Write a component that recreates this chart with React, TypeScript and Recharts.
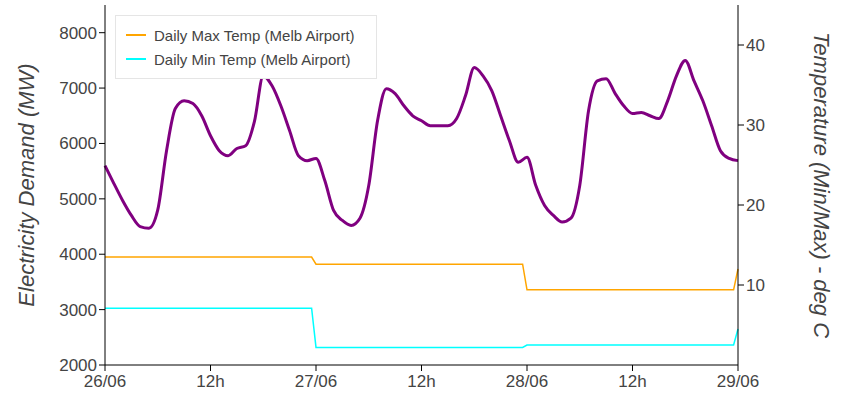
import React from 'react';
import { LineChart, Line, XAxis, YAxis, Legend } from 'recharts';

// hourly electricity demand (MW), hour 0 = 26/06 00:00
const hours = Array.from({ length: 73 }, (_, i) => i);
const demand = [
  5600, 5280, 4970, 4700, 4500, 4470, 4800, 5870, 6630, 6770, 6720, 6500,
  6140, 5870, 5780, 5910, 5960, 6400, 7220, 7040, 6680, 6230, 5780, 5690,
  5730, 5330, 4790, 4610, 4520, 4650, 5240, 6410, 6990, 6900, 6680, 6500,
  6410, 6320, 6320, 6320, 6450, 6860, 7370, 7220, 6950, 6500, 6050, 5660,
  5750, 5240, 4880, 4700, 4580, 4650, 5240, 6590, 7130, 7170, 6910, 6680,
  6540, 6560, 6500, 6450, 6770, 7220, 7500, 7130, 6770, 6320, 5870, 5730,
  5690,
];

// temperature points where the daily values change
const tempHours = [0, 23.5, 24, 47.5, 48, 71.5, 72];
const maxTemp = [13.5, 13.5, 12.6, 12.6, 9.4, 9.4, 12.0];
const minTemp = [7.1, 7.1, 2.2, 2.2, 2.5, 2.5, 4.5];

const xTicks = [0, 12, 24, 36, 48, 60, 72];
const xLabels = ['26/06', '12h', '27/06', '12h', '28/06', '12h', '29/06'];

const demandData = hours.map((h, i) => ({ h, demand: demand[i] }));
const maxData = tempHours.map((h, i) => ({ h, max: maxTemp[i] }));
const minData = tempHours.map((h, i) => ({ h, min: minTemp[i] }));

const font = '"Liberation Sans", Arial, sans-serif';
const tick = { fill: '#444', fontSize: 17, fontFamily: font };
const titleStyle = { fill: '#444', fontSize: 22, fontStyle: 'italic', fontFamily: font };

const LegendBox = () => (
  <div style={{ position: 'absolute', left: 115, top: 15, width: 260, border: '1px solid #e5e5e5', background: '#fff', padding: '7px 0', fontFamily: font, fontSize: 15, color: '#444' }}>
    {[['Daily Max Temp (Melb Airport)', 'orange'], ['Daily Min Temp (Melb Airport)', 'cyan']].map(([t, c]) => (
      <div key={t} style={{ display: 'flex', alignItems: 'center', height: 24 }}>
        <span style={{ display: 'inline-block', width: 20, height: 1.5, background: c, margin: '0 8px 0 10px' }} />
        {t}
      </div>
    ))}
  </div>
);

export default function App() {
  return (
    <div style={{ position: 'absolute', left: 0, top: 0, width: 850, height: 400, background: '#fff' }}>
      <LineChart width={850} height={400} margin={{ top: 5, right: 0, left: 0, bottom: 0 }}>
        <XAxis dataKey="h" type="number" domain={[0, 72]} ticks={xTicks} allowDuplicatedCategory={false}
          tickFormatter={(v: number) => xLabels[xTicks.indexOf(v)]} tick={tick} height={35}
          stroke="#000" tickSize={6} tickMargin={4} />
        <YAxis yAxisId="l" domain={[2000, 8500]} ticks={[2000, 3000, 4000, 5000, 6000, 7000, 8000]}
          width={105} tick={tick} stroke="#000" tickSize={6}
          label={() => (
            <text x={28} y={185} transform="rotate(-90 28 185)" textAnchor="middle" dominantBaseline="middle" style={titleStyle}>
              Electricity Demand (MW)
            </text>
          )} />
        <YAxis yAxisId="r" orientation="right" domain={[0, 45]} ticks={[10, 20, 30, 40]}
          width={112} tick={tick} stroke="#000" tickSize={6}
          label={() => (
            <text x={820} y={185} transform="rotate(90 820 185)" textAnchor="middle" dominantBaseline="middle" style={titleStyle}>
              Temperature (Min/Max) - deg C
            </text>
          )} />
        <Legend content={() => <LegendBox />} wrapperStyle={{ position: 'absolute', left: 0, top: 0 }} />
        <Line yAxisId="l" data={demandData} dataKey="demand" type="monotone" stroke="purple" strokeWidth={3} dot={false} isAnimationActive={false} legendType="none" />
        <Line yAxisId="r" data={maxData} dataKey="max" type="linear" stroke="orange" strokeWidth={1.5} dot={false} isAnimationActive={false} />
        <Line yAxisId="r" data={minData} dataKey="min" type="linear" stroke="cyan" strokeWidth={1.5} dot={false} isAnimationActive={false} />
      </LineChart>
    </div>
  );
}
